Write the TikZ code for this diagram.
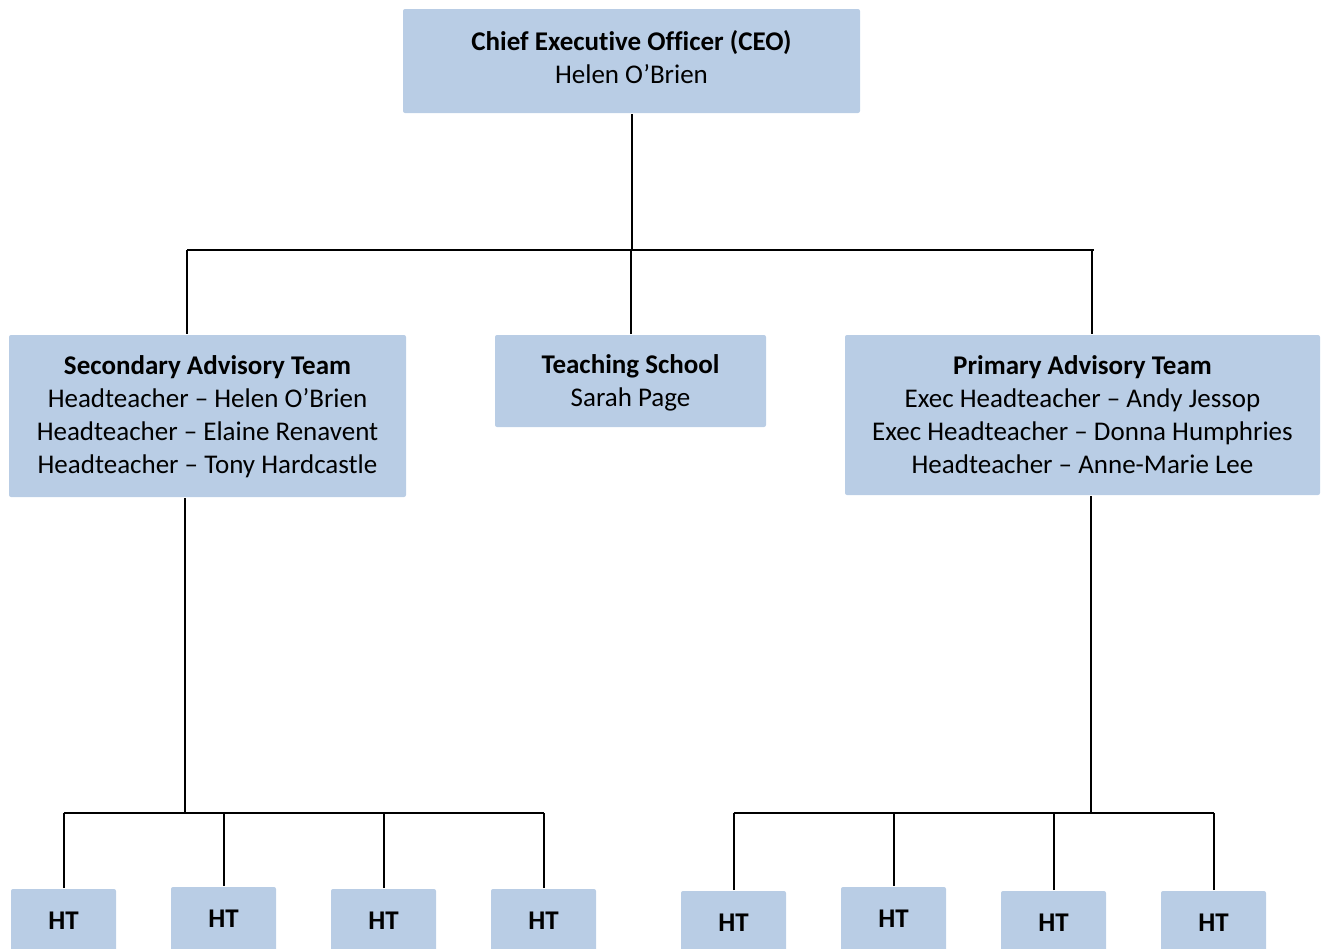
\documentclass[tikz,border=0pt]{standalone}
\usepackage{fontspec}
\setmainfont{Carlito}[Ligatures=NoCommon]
\definecolor{boxblue}{HTML}{B9CDE5}
\begin{document}
\begin{tikzpicture}[x=1pt,y=-1pt,line width=2pt,
  every node/.style={fill=boxblue, rounded corners=2pt, align=center, inner sep=0pt,
    font=\fontsize{27}{33}\selectfont},
  ht/.style={minimum width=105pt, minimum height=64pt, font=\fontsize{27}{33}\selectfont\bfseries}]
  \useasboundingbox (0,0) rectangle (1327,948);
  \node[minimum width=457pt, minimum height=104pt, text depth=8pt] (ceo) at (631.5,61)
    {\textbf{Chief Executive Officer (CEO)}\\Helen O’Brien};
  \node[minimum width=397pt, minimum height=162pt, text depth=2.5pt] (sec) at (207.5,416)
    {\textbf{Secondary Advisory Team}\\Headteacher – Helen O’Brien\\Headteacher – Elaine Renavent\\Headteacher – Tony Hardcastle};
  \node[minimum width=271pt, minimum height=92pt, text depth=-5pt] (ts) at (630.5,381)
    {\textbf{Teaching School}\\Sarah Page};
  \node[minimum width=475pt, minimum height=160pt] (pri) at (1082.5,415)
    {\textbf{Primary Advisory Team}\\Exec Headteacher – Andy Jessop\\Exec Headteacher – Donna Humphries\\Headteacher – Anne-Marie Lee};
  %
  \foreach \n/\x/\y in {1/63.5/921, 2/223.5/919, 3/383.5/921, 4/543.5/921,
                        5/733.5/923, 6/893.5/919, 7/1053.5/923, 8/1213.5/923}
    \node[ht] (ht\n) at (\x,\y) {HT};
  %
  \coordinate (busL) at (187,250);
  \coordinate (busR) at (1094,250);
  \coordinate (busP) at (1092,250);
  \coordinate (sbus) at (185,813);
  \coordinate (pbus) at (1091,813);
  \draw (ceo.south) -- (ceo.south |- busL);
  \draw (busL) -- (busR);
  \draw (busL) -- (busL |- sec.north);
  \draw (ts.north) -- (ts.north |- busL);
  \draw (busP) -- (busP |- pri.north);
  %
  \draw (sbus |- sec.south) -- (sbus);
  \draw (ht1 |- sbus) -- (ht4 |- sbus);
  \draw (pbus |- pri.south) -- (pbus);
  \draw (ht5 |- pbus) -- (ht8 |- pbus);
  \foreach \n in {1,2,3,4}
    \draw (ht\n.north) -- (ht\n |- sbus);
  \foreach \n in {5,6,7,8}
    \draw (ht\n.north) -- (ht\n |- pbus);
\end{tikzpicture}
\end{document}
